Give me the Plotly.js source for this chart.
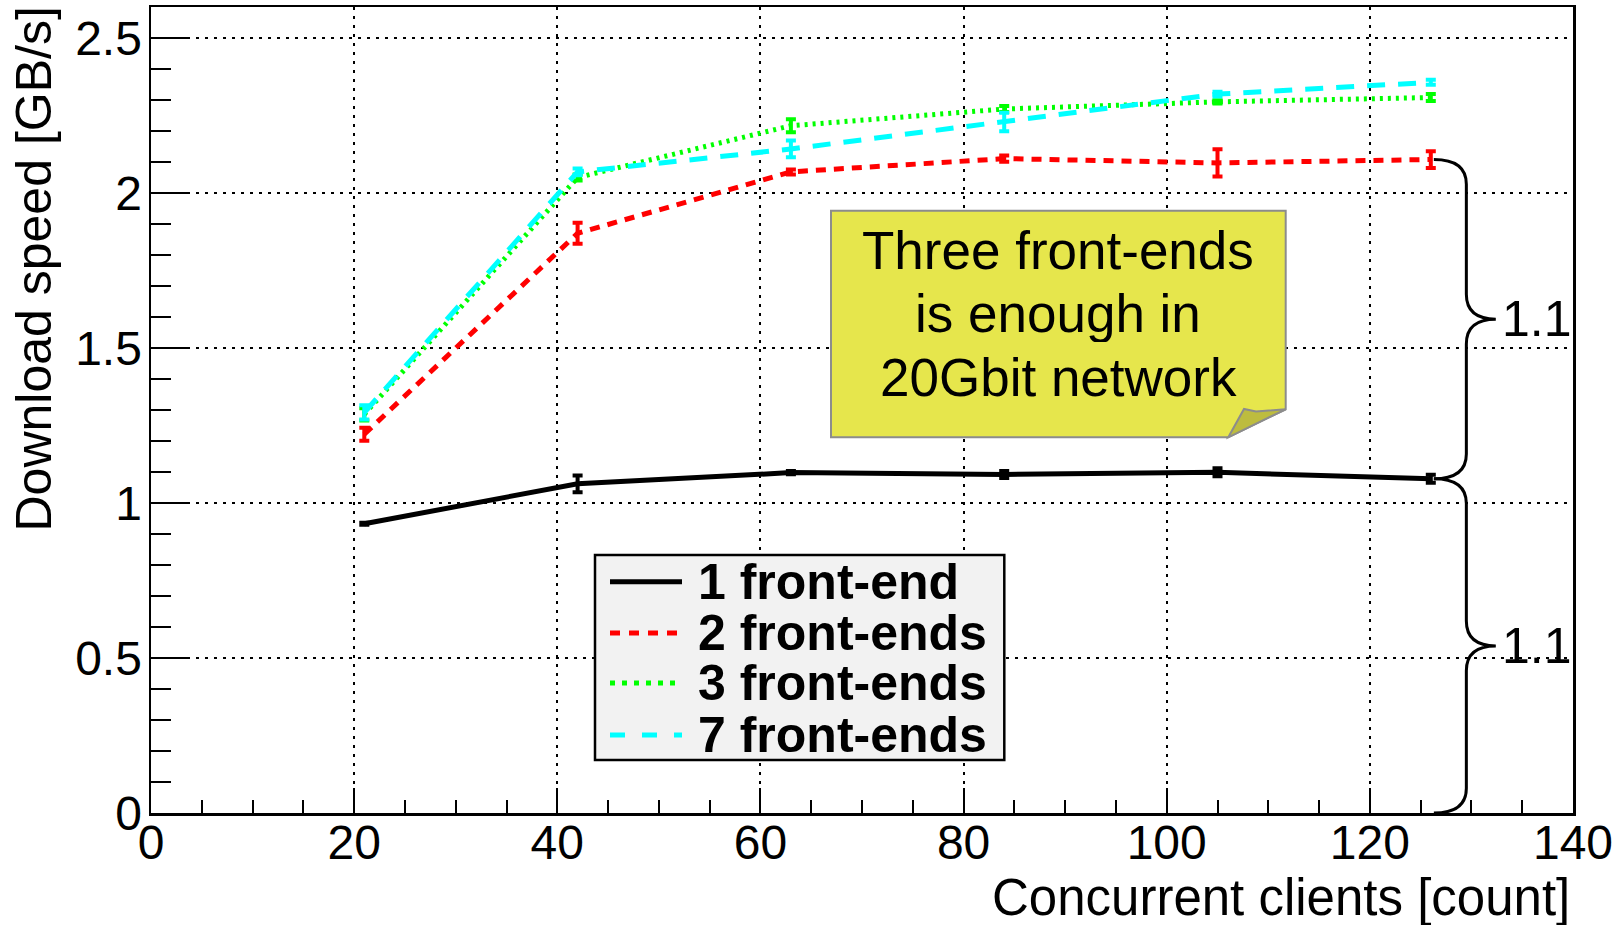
<!DOCTYPE html>
<html>
<head>
<meta charset="utf-8">
<script src="https://cdn.plot.ly/plotly-3.0.1.min.js"></script>
<style>
  html, body { margin: 0; padding: 0; background: #fff; }
  #chart { width: 1623px; height: 925px; }
</style>
</head>
<body>
<div id="chart"></div>
<script>
// ---- data ----
const clients = [21, 42, 63, 84, 105, 126];
const seriesNames = ["1 front-end", "2 front-ends", "3 front-ends", "7 front-ends"];
const speed1 = [0.933, 1.062, 1.098, 1.092, 1.099, 1.078];
const err1   = [0.003, 0.027, 0.005, 0.011, 0.013, 0.013];
const speed2 = [1.222, 1.870, 2.068, 2.111, 2.097, 2.108];
const err2   = [0.021, 0.034, 0.008, 0.010, 0.044, 0.027];
const speed3 = [1.286, 2.050, 2.217, 2.271, 2.294, 2.308];
const err3   = [0.020, 0.010, 0.021, 0.010, 0.005, 0.011];
const speed7 = [1.292, 2.068, 2.142, 2.229, 2.319, 2.357];
const err7   = [0.023, 0.011, 0.027, 0.030, 0.008, 0.008];
const braceLabels = ["1.1", "1.1"];
const noteLines = ["Three front-ends", "is enough in", "20Gbit network"];
const xTitle = "Concurrent clients [count]";
const yTitle = "Download speed [GB/s]";

// ---- styles ----
const FONT = "Liberation Sans, Arial, Helvetica, sans-serif";
const styles = [
  {color: "#000000", dash: "solid",      legDash: "solid"},
  {color: "#ff0000", dash: "10px,8px",   legDash: "10px,9px"},
  {color: "#00ff00", dash: "3px,5px",    legDash: "5px,7px"},
  {color: "#00ffff", dash: "18px,13px",  legDash: "15px,17px"}
];
const ys = [speed1, speed2, speed3, speed7];
const es = [err1, err2, err3, err7];

const traces = ys.map((y, i) => ({
  type: "scatter",
  mode: "lines",
  x: clients,
  y: y,
  name: seriesNames[i],
  showlegend: false,
  line: {color: styles[i].color, width: 5, dash: styles[i].dash},
  error_y: {type: "data", array: es[i], visible: true, color: styles[i].color, thickness: 4, width: 5}
}));

// pixel helpers -> paper coords (plot area: l=151, r=1573, t=7, b=813)
const L = 151, R = 1573, T = 7, B = 813;
const px = v => (v - L) / (R - L);
const py = v => (B - v) / (B - T);

const shapes = [];
const annotations = [];

// ---- braces (built from the data at the last client count) ----
const xl = clients[clients.length - 1];
function bracePath(yTop, yBot) {
  const x0 = xl + 0.3, xv = xl + 3.5, xt = xl + 6.4, r = 0.08;
  const ym = (yTop + yBot) / 2;
  return `M${x0},${yTop} Q${xv},${yTop} ${xv},${yTop - r} L${xv},${ym + r} ` +
         `Q${xv},${ym} ${xt},${ym} Q${xv},${ym} ${xv},${ym - r} L${xv},${yBot + r} ` +
         `Q${xv},${yBot} ${x0},${yBot}`;
}
const braceSpans = [[speed2[speed2.length - 1], speed1[speed1.length - 1]], [speed1[speed1.length - 1], 0]];
braceSpans.forEach((s, i) => {
  shapes.push({type: "path", xref: "x", yref: "y", path: bracePath(s[0], s[1]),
    line: {color: "#000", width: 3}, layer: "above"});
  annotations.push({xref: "x", yref: "y", x: xl + 6.8, y: (s[0] + s[1]) / 2, xanchor: "left", yanchor: "middle",
    text: braceLabels[i], showarrow: false, font: {family: FONT, size: 50, color: "#000"}});
});

// ---- sticky note ----
const nL = px(831), nR = px(1285.7), nT = py(210.7), nB = py(437.3);
const fX = px(1228.3), fY = py(409.3), fX2 = px(1244), fY2 = py(409.0), fX3 = px(1256), fY3 = py(411.5);
shapes.push({type: "path", xref: "paper", yref: "paper",
  path: `M${nL},${nT} L${nR},${nT} L${nR},${fY} L${fX},${nB} L${nL},${nB} Z`,
  fillcolor: "#e6e64c", line: {color: "#8c8c8c", width: 2}, layer: "above"});
shapes.push({type: "path", xref: "paper", yref: "paper",
  path: `M${fX},${nB} L${fX2},${fY2} L${fX3},${fY3} L${nR},${fY} Z`,
  fillcolor: "#bdbc3e", line: {color: "#8c8c8c", width: 2}, layer: "above"});
const noteY = [250, 312.5, 376.5];
noteLines.forEach((t, i) => {
  annotations.push({xref: "paper", yref: "paper", x: px(1058), y: py(noteY[i]), xanchor: "center", yanchor: "middle",
    height: 58, text: t, showarrow: false, font: {family: FONT, size: 53, color: "#000"}});
});

// ---- legend (drawn manually to match the reference box) ----
shapes.push({type: "rect", xref: "paper", yref: "paper", x0: px(595), x1: px(1004.3), y0: py(760), y1: py(555),
  fillcolor: "#f2f2f2", line: {color: "#000", width: 2.5}, layer: "above"});
const rowY = [581.7, 633, 683, 735];
seriesNames.forEach((n, i) => {
  shapes.push({type: "line", xref: "paper", yref: "paper", x0: px(610), x1: px(682), y0: py(rowY[i]), y1: py(rowY[i]),
    line: {color: styles[i].color, width: 5, dash: styles[i].legDash}, layer: "above"});
  annotations.push({xref: "paper", yref: "paper", x: px(696), y: py(rowY[i]), xanchor: "left", yanchor: "middle",
    height: 48, text: "<b>" + n + "</b>", showarrow: false, font: {family: FONT, size: 50, color: "#000"}});
});

// ---- axis titles (ROOT style: right/top aligned) ----
annotations.push({xref: "paper", yref: "paper", x: px(1572), y: py(897), xanchor: "right", yanchor: "middle",
  text: xTitle, showarrow: false, font: {family: FONT, size: 51, color: "#000"}});
annotations.push({xref: "paper", yref: "paper", x: px(33), y: py(5), xanchor: "center", yanchor: "top",
  textangle: -90, text: yTitle, showarrow: false, font: {family: FONT, size: 50, color: "#000"}});

const axisCommon = {
  ticks: "inside", tickwidth: 2, tickcolor: "#000",
  showline: true, linewidth: 2.5, linecolor: "#000", mirror: true,
  showgrid: true, gridcolor: "#000", griddash: "3px,6px", gridwidth: 2,
  zeroline: false, tickfont: {family: FONT, size: 48, color: "#000"}
};

const layout = {
  width: 1623, height: 925,
  margin: {l: L, r: 1623 - R, t: T, b: 925 - B, pad: 0},
  paper_bgcolor: "#fff", plot_bgcolor: "#fff",
  showlegend: false,
  xaxis: Object.assign({}, axisCommon, {
    range: [0, 140], tick0: 0, dtick: 20, ticklen: 25, ticklabelstandoff: -14,
    minor: {dtick: 5, ticklen: 13, tickwidth: 2, tickcolor: "#000", ticks: "inside", showgrid: false}
  }),
  yaxis: Object.assign({}, axisCommon, {
    range: [0, 2.6], tick0: 0, dtick: 0.5, ticklen: 39, ticklabelstandoff: -3,
    minor: {dtick: 0.1, ticklen: 20, tickwidth: 2, tickcolor: "#000", ticks: "inside", showgrid: false}
  }),
  shapes: shapes,
  annotations: annotations
};

Plotly.newPlot("chart", traces, layout, {staticPlot: true, displayModeBar: false});
</script>
</body>
</html>
